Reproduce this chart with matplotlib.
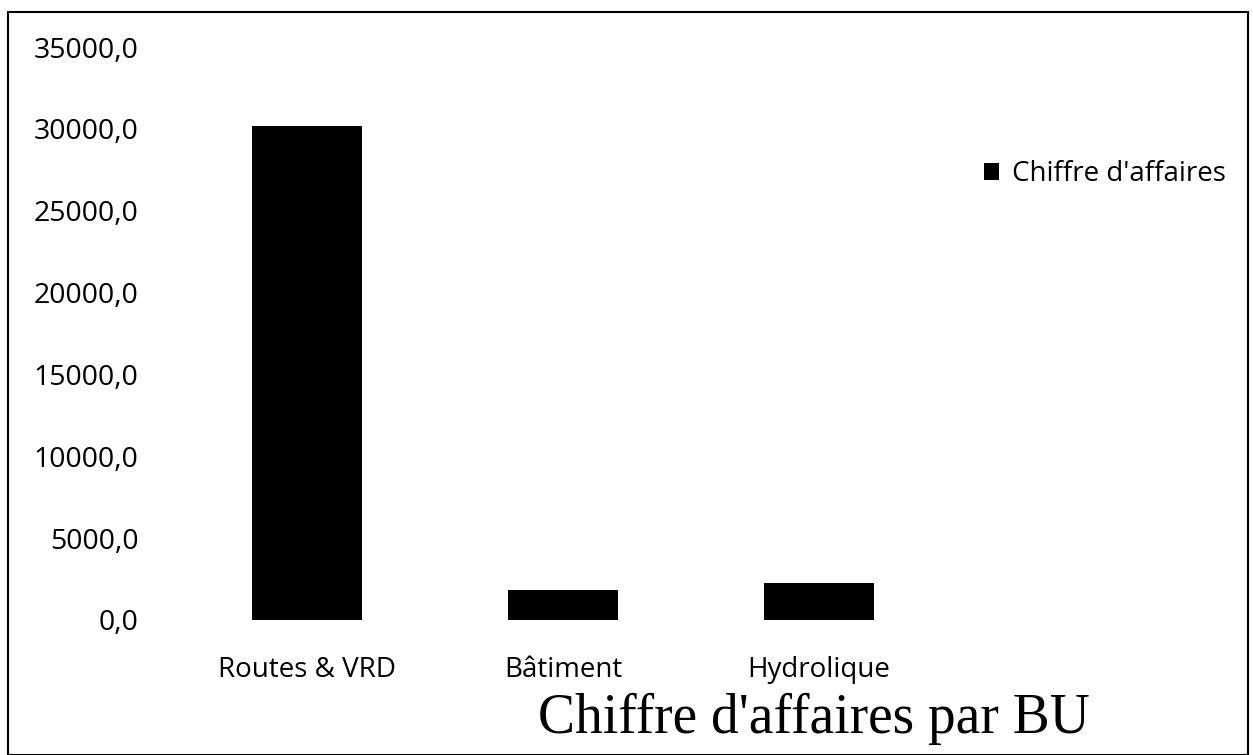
import matplotlib
matplotlib.use("Agg")
import matplotlib.pyplot as plt
from matplotlib.patches import Rectangle
from matplotlib.ticker import FuncFormatter

# data
categories = ["Routes & VRD", "Bâtiment", "Hydrolique"]
chiffre_affaires = [30200, 1820, 2250]
series_name = "Chiffre d'affaires"
title = "Chiffre d'affaires par BU"

W, H = 1253, 755
fig = plt.figure(figsize=(W / 100, H / 100), dpi=100)

# outer frame of the chart
fig.patches.append(Rectangle((8 / W, 0), (1248 - 8) / W, 1 - 12 / H,
                             transform=fig.transFigure, fill=False,
                             edgecolor="black", linewidth=1.5))

# axes placed in pixels: x from 179 to 947, y from 620 (0) to 47 (35000)
ax = fig.add_axes([179 / W, (H - 620) / H, (947 - 179) / W, (620 - 47) / H])
bars = ax.bar(range(len(categories)), chiffre_affaires, width=0.43,
              color="black", label=series_name)
ax.set_xlim(-0.5, len(categories) - 0.5)
ax.set_ylim(0, 35000)
ax.set_yticks(range(0, 35001, 5000))
ax.yaxis.set_major_formatter(FuncFormatter(lambda v, p: f"{v:.1f}".replace(".", ",")))
ax.set_xticks(range(len(categories)))
ax.set_xticklabels(categories)
for s in ax.spines.values():
    s.set_visible(False)
ax.tick_params(length=0, labelsize=20)
ax.tick_params(axis="y", pad=29, labelsize=20.5)
ax.tick_params(axis="x", pad=26)
for lab in ax.get_xticklabels() + ax.get_yticklabels():
    lab.set_fontfamily("Open Sans")

leg = fig.legend(handles=[bars], labels=[series_name], loc="center left",
                 bbox_to_anchor=(959 / W, 1 - 174 / H), frameon=False,
                 handlelength=0.55, handleheight=0.55, handletextpad=0.45,
                 prop={"family": "Open Sans", "size": 20})

fig.text(814 / W, 1 - 719 / H, title, ha="center", va="center",
         fontsize=40, family="Liberation Serif")

fig.savefig("out.png", dpi=100, facecolor="white")
